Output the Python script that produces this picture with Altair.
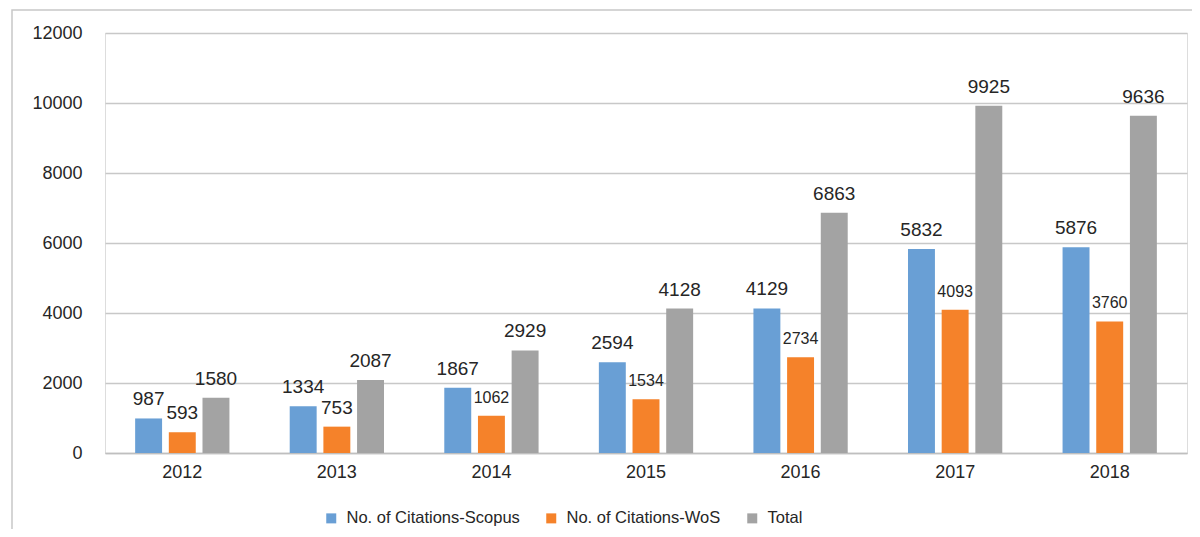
import altair as alt
import pandas as pd

years = ["2012", "2013", "2014", "2015", "2016", "2017", "2018"]
scopus = [987, 1334, 1867, 2594, 4129, 5832, 5876]
wos = [593, 753, 1062, 1534, 2734, 4093, 3760]
total = [1580, 2087, 2929, 4128, 6863, 9925, 9636]
series = ["No. of Citations-Scopus", "No. of Citations-WoS", "Total"]
colors = ["#699FD5", "#F5822A", "#A3A3A3"]

rows = []
for i, y in enumerate(years):
    for s, vals in zip(series, [scopus, wos, total]):
        rows.append({"Year": y, "Series": s, "Value": vals[i],
                     "narrow": (s == "No. of Citations-WoS" and vals[i] >= 1000)})
df = pd.DataFrame(rows)

FONT = "Liberation Sans"

x = alt.X("Year:N", sort=years, title=None,
          scale=alt.Scale(paddingInner=0.39, paddingOuter=0.195),
          axis=alt.Axis(labelAngle=0, labelFontSize=18, labelColor="#262626",
                        labelPadding=10, ticks=False, domainColor="#BFBFBF",
                        domainWidth=1.5, labelFont=FONT))
xo = alt.XOffset("Series:N", sort=series, scale=alt.Scale(paddingInner=0.2))
y = alt.Y("Value:Q", title=None,
          scale=alt.Scale(domain=[0, 12000], nice=False),
          axis=alt.Axis(values=list(range(0, 12001, 2000)), format="d",
                        labelFontSize=18, labelColor="#262626", labelPadding=23,
                        ticks=False, domain=False, gridColor="#C8C8C8",
                        gridWidth=1.5, labelFont=FONT))

base = alt.Chart(df)

bars = base.mark_bar().encode(
    x=x, xOffset=xo, y=y,
    color=alt.Color("Series:N", sort=series,
                    scale=alt.Scale(domain=series, range=colors),
                    legend=alt.Legend(title=None, orient="none", direction="horizontal",
                                      legendX=218, legendY=477, symbolType="square",
                                      symbolSize=100, symbolStrokeWidth=0,
                                      labelFontSize=16.5, labelFont=FONT,
                                      labelColor="#262626", columnPadding=23,
                                      labelOffset=7, padding=0, labelLimit=0)),
)

labels = base.transform_filter("!datum.narrow").mark_text(
    baseline="alphabetic", dy=-13, fontSize=19, font=FONT, color="#262626"
).encode(x=x, xOffset=xo, y=y, text="Value:Q")

labels_narrow = base.transform_filter("datum.narrow").mark_text(
    baseline="alphabetic", dy=-13, fontSize=16, font=FONT, color="#262626"
).encode(x=x, xOffset=xo, y=y, text="Value:Q")

frame = alt.Chart(pd.DataFrame({"a": [0]})).mark_rect(
    fill=None, stroke="#C8C8C8", strokeWidth=1.5
).encode(x=alt.value(-93), x2=alt.value(1120), y=alt.value(-23), y2=alt.value(560))

chart = alt.layer(frame, bars, labels, labels_narrow).properties(
    width=1082, height=420,
    autosize=alt.AutoSizeParams(type="none"),
    padding={"left": 97, "top": 25, "right": 5, "bottom": 76},
).configure_view(stroke=None).configure(font=FONT)

chart.save("out.html", embed_options={"renderer": "svg", "actions": False})
